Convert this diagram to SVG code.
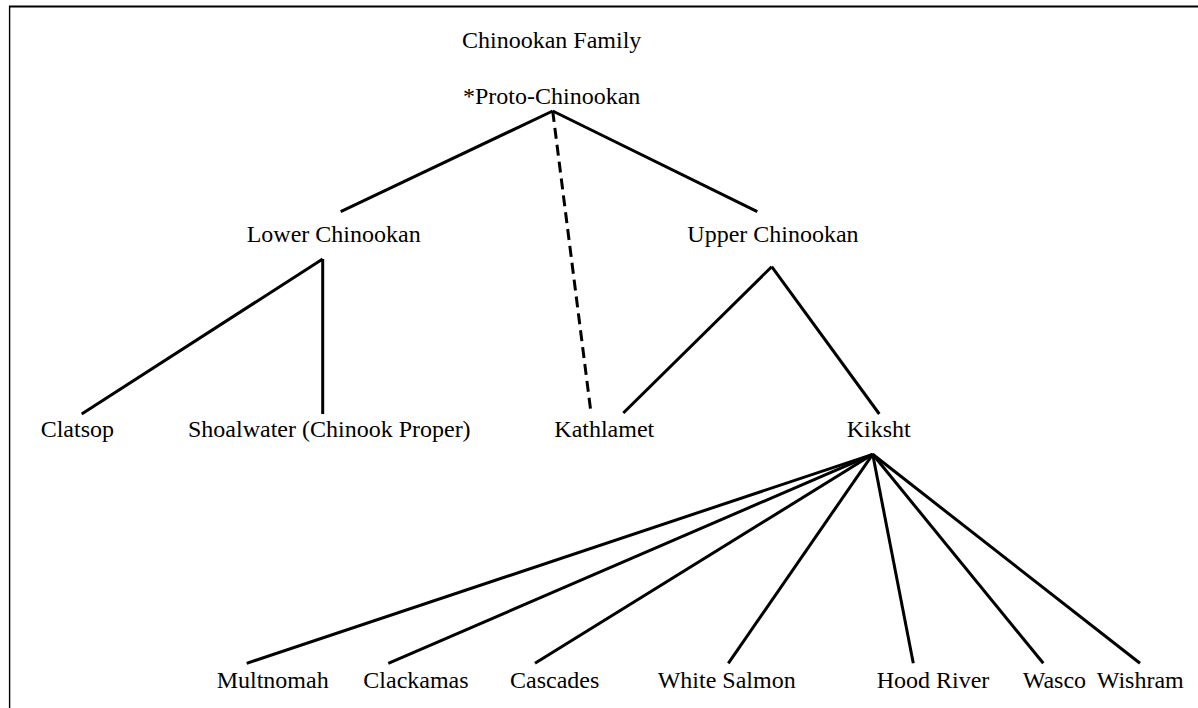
<svg xmlns="http://www.w3.org/2000/svg" width="1198" height="708" viewBox="0 0 1198 708" font-family="'Liberation Serif', 'Times New Roman', Times, 'DejaVu Serif', serif">
<style>
text{font-family:'Liberation Serif','Times New Roman',Times,'DejaVu Serif',serif;font-size:24px;fill:#000}
.e{stroke:#000;stroke-width:3;fill:none;stroke-linecap:butt}
.d{stroke-dasharray:11 6}
.frame{stroke:#000;fill:none}
</style>
<rect width="1198" height="708" fill="#fff"/>
<g id="frame">
<line class="frame" x1="9" y1="6.5" x2="1198" y2="6.5" stroke-width="1.8"/>
<line class="frame" x1="9.6" y1="6" x2="9.6" y2="708" stroke-width="1.4"/>
</g>
<g id="connectors">
<line class="e" x1="552.7" y1="111" x2="340.7" y2="211.7"/>
<line class="e" x1="552.7" y1="111" x2="757.3" y2="211.7"/>
<line class="e d" x1="552.7" y1="111" x2="591" y2="413"/>
<line class="e" x1="322.7" y1="259" x2="81.7" y2="414"/>
<line class="e" x1="322.7" y1="259" x2="322.7" y2="414"/>
<line class="e" x1="771.7" y1="266.7" x2="623.3" y2="413"/>
<line class="e" x1="771.7" y1="266.7" x2="879.3" y2="414"/>
<line class="e" x1="872.7" y1="454.3" x2="246.7" y2="663.3"/>
<line class="e" x1="872.7" y1="454.3" x2="388.3" y2="663.3"/>
<line class="e" x1="872.7" y1="454.3" x2="535" y2="663.3"/>
<line class="e" x1="872.7" y1="454.3" x2="728.3" y2="663.3"/>
<line class="e" x1="872.7" y1="454.3" x2="913.3" y2="663.3"/>
<line class="e" x1="872.7" y1="454.3" x2="1043.3" y2="663.3"/>
<line class="e" x1="872.7" y1="454.3" x2="1140" y2="663.3"/>
</g>
<g id="title"><text x="462" y="48">Chinookan Family</text></g>
<g id="proto"><text x="463" y="103.5">*Proto-Chinookan</text></g>
<g id="lower"><text x="246.7" y="242">Lower Chinookan</text></g>
<g id="upper"><text x="687.3" y="242">Upper Chinookan</text></g>
<g id="clatsop"><text x="40.7" y="437">Clatsop</text></g>
<g id="shoalwater"><text x="188" y="437">Shoalwater (Chinook Proper)</text></g>
<g id="kathlamet"><text x="554.3" y="437">Kathlamet</text></g>
<g id="kiksht"><text x="846.7" y="437">Kiksht</text></g>
<g id="multnomah"><text x="216.7" y="688.3">Multnomah</text></g>
<g id="clackamas"><text x="363.3" y="688.3">Clackamas</text></g>
<g id="cascades"><text x="510" y="688.3">Cascades</text></g>
<g id="whitesalmon"><text x="657.7" y="688.3">White Salmon</text></g>
<g id="hoodriver"><text x="876.7" y="688.3">Hood River</text></g>
<g id="wasco"><text x="1022.7" y="688.3">Wasco</text></g>
<g id="wishram"><text x="1096.7" y="688.3">Wishram</text></g>
</svg>
